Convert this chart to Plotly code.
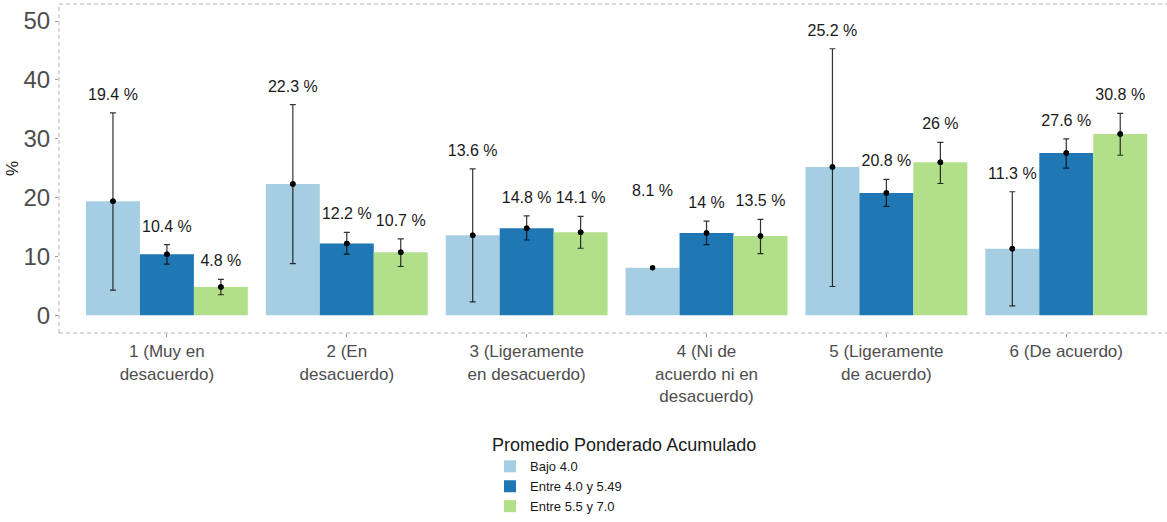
import plotly.graph_objects as go

categories = ["1 (Muy en<br>desacuerdo)", "2 (En<br>desacuerdo)", "3 (Ligeramente<br>en desacuerdo)",
              "4 (Ni de<br>acuerdo ni en<br>desacuerdo)", "5 (Ligeramente<br>de acuerdo)", "6 (De acuerdo)"]
series_names = ["Bajo 4.0", "Entre 4.0 y 5.49", "Entre 5.5 y 7.0"]

bajo = [19.4, 22.3, 13.6, 8.1, 25.2, 11.3]
bajo_low = [4.3, 8.8, 2.3, None, 4.9, 1.6]
bajo_up = [34.4, 35.8, 24.9, 18.0, 45.3, 21.0]

medio = [10.4, 12.2, 14.8, 14.0, 20.8, 27.6]
medio_low = [8.7, 10.4, 12.8, 12.0, 18.5, 25.0]
medio_up = [12.0, 14.1, 16.9, 16.0, 23.1, 30.0]

alto = [4.8, 10.7, 14.1, 13.5, 26.0, 30.8]
alto_low = [3.5, 8.3, 11.4, 10.5, 22.4, 27.2]
alto_up = [6.1, 13.0, 16.8, 16.3, 29.4, 34.3]

y_ticks = [0, 10, 20, 30, 40, 50]

colors = ["#A6CEE3", "#1F78B4", "#B2DF8A"]
values = [bajo, medio, alto]
lows = [bajo_low, medio_low, alto_low]
ups = [bajo_up, medio_up, alto_up]

bar_w = 0.3
offsets = [-bar_w, 0.0, bar_w]
label_pad = 2.9

fig = go.Figure()
positions = list(range(1, len(categories) + 1))

for k, name in enumerate(series_names):
    xs = [p + offsets[k] for p in positions]
    fig.add_trace(go.Bar(x=xs, y=values[k], width=bar_w, name=name,
                         marker=dict(color=colors[k], line=dict(width=0)),
                         showlegend=True))

for k, name in enumerate(series_names):
    xs = [p + offsets[k] for p in positions]
    ex, ey, eplus, eminus = [], [], [], []
    for i in range(len(positions)):
        if lows[k][i] is not None and ups[k][i] is not None:
            ex.append(xs[i]); ey.append(values[k][i])
            eplus.append(ups[k][i] - values[k][i])
            eminus.append(values[k][i] - lows[k][i])
    fig.add_trace(go.Scatter(x=ex, y=ey, mode="markers", showlegend=False,
                             marker=dict(color="black", size=5.5),
                             error_y=dict(type="data", array=eplus, arrayminus=eminus,
                                          color="rgba(0,0,0,0.8)", thickness=1.2, width=3)))
    fig.add_trace(go.Scatter(x=xs, y=values[k], mode="markers", showlegend=False,
                             marker=dict(color="black", size=5.5)))
    fig.add_trace(go.Scatter(x=xs, y=[u + label_pad for u in ups[k]], mode="text",
                             text=[f"{v:g} %" for v in values[k]], showlegend=False,
                             textposition="middle center",
                             textfont=dict(size=16, color="#1a1a1a",
                                           family="Liberation Sans, Arial, sans-serif")))

border = dict(color="#b3b3b3", width=1, dash="4px,3px")
fig.add_shape(type="line", xref="paper", yref="paper", x0=0, x1=1, y0=1, y1=1, line=border)
fig.add_shape(type="line", xref="paper", yref="paper", x0=0, x1=1, y0=0, y1=0, line=border)
fig.add_shape(type="line", xref="paper", yref="paper", x0=0, x1=0, y0=0, y1=1, line=border)

fig.update_layout(
    width=1167, height=522,
    margin=dict(l=59, r=0, t=4, b=187),
    plot_bgcolor="white", paper_bgcolor="white",
    barmode="overlay",
    font=dict(family="Liberation Sans, Arial, sans-serif"),
    xaxis=dict(range=[0.4, 6.56], tickvals=positions, ticktext=categories,
               showgrid=False, zeroline=False, showline=False,
               ticks="outside", ticklen=3, tickcolor="#999999",
               tickfont=dict(size=17, color="#4d4d4d")),
    yaxis=dict(range=[-3.0, 52.9], tickvals=y_ticks,
               showgrid=False, zeroline=False, showline=False,
               ticks="outside", ticklen=3, tickcolor="#999999",
               tickfont=dict(size=24, color="#4d4d4d"),
               title=dict(text="%", font=dict(size=17, color="#1a1a1a"), standoff=0)),
    legend=dict(x=0.389, xanchor="left", y=-0.29, yanchor="top",
                title=dict(text="Promedio Ponderado Acumulado", side="top",
                           font=dict(size=18, color="#1a1a1a")),
                font=dict(size=13, color="#1a1a1a"),
                bgcolor="rgba(0,0,0,0)", tracegroupgap=0),
)

fig.write_html("out.html")
